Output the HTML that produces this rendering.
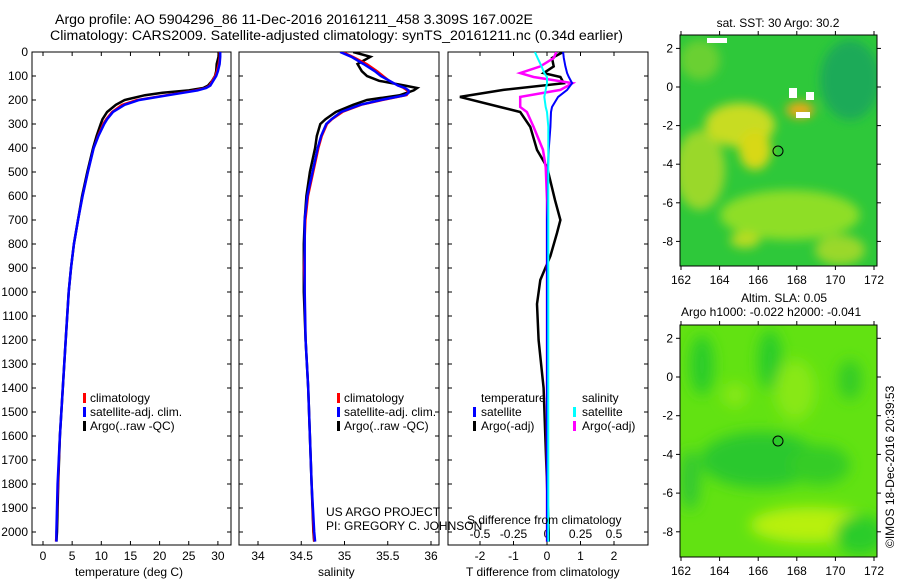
<!DOCTYPE html>
<html><head><meta charset="utf-8">
<style>
html,body{margin:0;padding:0;background:#fff;}
svg{display:block;font-family:"Liberation Sans",sans-serif;font-size:12px;}
</style></head>
<body>
<svg id="fig" width="900" height="580" viewBox="0 0 900 580">
<defs>
<filter id="bl1" x="-50%" y="-50%" width="200%" height="200%"><feGaussianBlur stdDeviation="5"/></filter>
<filter id="bl2" x="-50%" y="-50%" width="200%" height="200%"><feGaussianBlur stdDeviation="7"/></filter>
<clipPath id="c1"><rect x="32" y="52" width="199" height="493"/></clipPath>
<clipPath id="c2"><rect x="239" y="52" width="200" height="493"/></clipPath>
<clipPath id="c3"><rect x="448" y="52" width="200" height="493"/></clipPath>
<clipPath id="m1"><rect x="680" y="35" width="197" height="231"/></clipPath>
<clipPath id="m2"><rect x="680" y="325" width="197" height="232"/></clipPath>
</defs>
<text x="55" y="24" font-size="13.5" textLength="478" lengthAdjust="spacingAndGlyphs">Argo profile: AO 5904296_86 11-Dec-2016 20161211_458 3.309S 167.002E</text>
<text x="50" y="40" font-size="13.5" textLength="573" lengthAdjust="spacingAndGlyphs">Climatology: CARS2009. Satellite-adjusted climatology: synTS_20161211.nc (0.34d earlier)</text>

<g id="maps">
<g clip-path="url(#m1)">
<rect x="680" y="35" width="197" height="231" fill="#2ec83a"/>
<g filter="url(#bl1)">
<ellipse cx="700" cy="170" rx="25" ry="40" fill="#9ad82a"/>
<ellipse cx="740" cy="125" rx="35" ry="22" fill="#c8dc20"/>
<ellipse cx="755" cy="150" rx="16" ry="20" fill="#d8d818"/>
<ellipse cx="800" cy="110" rx="14" ry="8" fill="#f0a818"/>
<ellipse cx="790" cy="215" rx="70" ry="25" fill="#8ede26"/>
<ellipse cx="850" cy="80" rx="30" ry="40" fill="#1aaa58"/>
<ellipse cx="840" cy="250" rx="25" ry="15" fill="#9ad82a"/>
<ellipse cx="700" cy="60" rx="20" ry="20" fill="#6ad030"/>
<ellipse cx="745" cy="240" rx="15" ry="8" fill="#b8dc22"/>
</g>
<rect x="789" y="88" width="8" height="10" fill="#fff"/>
<rect x="806" y="92" width="8" height="8" fill="#fff"/>
<rect x="796" y="112" width="14" height="6" fill="#fff"/>
<rect x="707" y="38" width="20" height="5" fill="#fff"/>
<circle cx="778" cy="151" r="5" fill="none" stroke="#000"/>
</g>
<rect x="680" y="35" width="197" height="231" fill="none" stroke="#000"/>
<text x="778" y="27" text-anchor="middle">sat. SST: 30 Argo: 30.2</text>

<g clip-path="url(#m2)">
<rect x="680" y="325" width="197" height="232" fill="#62e212"/>
<g filter="url(#bl2)">
<ellipse cx="702" cy="365" rx="12" ry="30" fill="#2ccc2a"/>
<ellipse cx="770" cy="360" rx="12" ry="30" fill="#2ccc2a"/>
<ellipse cx="850" cy="380" rx="12" ry="20" fill="#34cc28"/>
<ellipse cx="760" cy="460" rx="60" ry="28" fill="#2cc82e"/>
<ellipse cx="820" cy="465" rx="30" ry="20" fill="#34cc28"/>
<ellipse cx="795" cy="390" rx="20" ry="30" fill="#88e818"/>
<ellipse cx="810" cy="525" rx="60" ry="18" fill="#b8f010"/>
<ellipse cx="735" cy="395" rx="12" ry="12" fill="#88e818"/>
<ellipse cx="690" cy="480" rx="10" ry="30" fill="#30c830"/>
<ellipse cx="860" cy="535" rx="25" ry="20" fill="#2ccc2a"/>
</g>
<circle cx="778" cy="441" r="5" fill="#2cc82a" stroke="#000"/>
</g>
<rect x="680" y="325" width="197" height="232" fill="none" stroke="#000"/>
<text x="741" y="302">Altim. SLA: 0.05</text>
<text x="681" y="316">Argo h1000: -0.022 h2000: -0.041</text>
<text transform="translate(894,548) rotate(-90)">©IMOS 18-Dec-2016 20:39:53</text>
<g id="mapticks"></g>
</g>

<g id="panels"></g>

<text x="75" y="576">temperature (deg C)</text>
<text x="318" y="576">salinity</text>
<text x="466" y="576">T difference from climatology</text>
<text x="467" y="524">S difference from climatology</text>
<text x="326" y="516">US ARGO PROJECT</text>
<text x="326" y="530">PI: GREGORY C. JOHNSON</text>

<g>
<rect x="83" y="393" width="3" height="10" fill="#f00"/><text x="90" y="402">climatology</text>
<rect x="83" y="407" width="3" height="10" fill="#00f"/><text x="90" y="416">satellite-adj. clim.</text>
<rect x="83" y="421" width="3" height="10" fill="#000"/><text x="90" y="430">Argo(..raw -QC)</text>
</g>
<g>
<rect x="337" y="393" width="3" height="10" fill="#f00"/><text x="344" y="402">climatology</text>
<rect x="337" y="407" width="3" height="10" fill="#00f"/><text x="344" y="416">satellite-adj. clim.</text>
<rect x="337" y="421" width="3" height="10" fill="#000"/><text x="344" y="430">Argo(..raw -QC)</text>
</g>
<g>
<text x="481" y="402">temperature</text><text x="582" y="402">salinity</text>
<rect x="473" y="407" width="3" height="10" fill="#00f"/><text x="481" y="416">satellite</text>
<rect x="573" y="407" width="3" height="10" fill="#0ff"/><text x="582" y="416">satellite</text>
<rect x="473" y="421" width="3" height="10" fill="#000"/><text x="481" y="430">Argo(-adj)</text>
<rect x="573" y="421" width="3" height="10" fill="#f0f"/><text x="582" y="430">Argo(-adj)</text>
</g>
</svg>
<script>
const depths = [0,20,50,80,100,120,140,150,160,170,180,200,220,250,280,300,350,400,500,600,700,800,900,1000,1200,1400,1600,1800,2000,2040];
const tempArgo = [30.2,30.1,29.8,29.7,29.5,29.0,28.3,27.5,25.0,20.5,17.5,14.0,12.5,11.0,10.2,9.9,9.2,8.6,7.6,6.7,6.0,5.3,4.8,4.4,3.9,3.4,2.9,2.6,2.4,2.3];
const tempClim = [30.3,30.3,30.1,29.8,29.5,29.0,28.5,27.8,26.0,23.5,21.0,16.0,13.5,11.8,10.8,10.3,9.4,8.7,7.7,6.8,6.0,5.3,4.8,4.4,3.9,3.4,2.9,2.6,2.3,2.2];
const tempSat = [30.4,30.4,30.3,30.0,29.7,29.2,28.7,28.0,26.5,24.0,21.5,16.5,14.0,12.0,11.0,10.5,9.5,8.7,7.7,6.8,6.0,5.3,4.8,4.4,3.9,3.4,2.9,2.5,2.3,2.3];
const salArgo = [35.1,35.3,35.15,35.2,35.26,35.4,35.7,35.84,35.8,35.72,35.64,35.26,35.1,34.9,34.78,34.72,34.68,34.66,34.6,34.56,34.54,34.53,34.53,34.53,34.55,34.58,34.6,34.62,34.64,34.65];
const salClim = [34.98,35.1,35.26,35.38,35.45,35.52,35.62,35.68,35.72,35.74,35.72,35.45,35.2,34.98,34.86,34.8,34.74,34.7,34.64,34.58,34.55,34.54,34.53,34.54,34.55,34.58,34.6,34.62,34.64,34.65];
const salSat = [34.95,35.08,35.22,35.35,35.42,35.52,35.62,35.7,35.74,35.74,35.7,35.42,35.18,34.96,34.85,34.79,34.73,34.69,34.63,34.57,34.54,34.54,34.54,34.54,34.55,34.58,34.6,34.62,34.65,34.66];
const diffDepths = [0,25,60,88,104,130,158,187,229,250,312,408,479,617,700,754,850,950,1050,1200,1400,1600,1800,2000,2040];
const tDiffArgo = [0.48,0.15,0.2,-0.1,0.4,0.5,-1.3,-2.6,-1.4,-0.8,-0.5,-0.3,0,0.24,0.4,0.3,0.1,-0.2,-0.3,-0.25,-0.1,-0.05,0,0.05,0.05];
const tDiffSat = [0.48,0.5,0.55,0.6,0.65,0.75,0.6,0.33,0.15,0.12,0.1,0.05,0.03,0.02,0,0,0,0,0,0,0,0,0,0,0];
const sDiffArgo = [0.07,0.05,-0.05,-0.2,-0.1,0.19,0.1,-0.2,-0.2,-0.15,-0.1,-0.03,-0.01,0,0,0,0,0,0,0,0,0,0,0,0];
const sDiffSat = [-0.09,-0.07,-0.04,-0.02,0,0,-0.01,-0.02,-0.01,0,0.01,0.01,0.01,0.01,0.01,0.01,0.01,0.01,0.01,0.01,0.01,0.01,0.01,0.01,0.01];
const depthTicks = [0,100,200,300,400,500,600,700,800,900,1000,1100,1200,1300,1400,1500,1600,1700,1800,1900,2000];
const tempTicks = [0,5,10,15,20,25,30];
const salTicks = [34,34.5,35,35.5,36];
const tDiffTicks = [-2,-1,0,1,2];
const sDiffTicks = [-0.5,-0.25,0,0.25,0.5];
const sDiffTickLabels = ["-0.5","-0.25","0","0.25","0.5"];
const lonTicks = [162,164,166,168,170,172];
const latTicks = [2,0,-2,-4,-6,-8];

const NS='http://www.w3.org/2000/svg';
const yD = d => 52 + d*0.24;
const xT = t => 43 + t*5.83;
const xS = s => 258 + (s-34)*86.5;
const xTd = v => 547 + v*33.5;
const xSd = v => 547 + v*134;
const lonX = l => 681 + (l-162)*19.3;
const lat1 = l => 87 - l*19.3;
const lat2 = l => 377 - l*19.35;
const panels = document.getElementById('panels');
function el(tag, attrs, parent){const e=document.createElementNS(NS,tag);for(const k in attrs)e.setAttribute(k,attrs[k]);(parent||panels).appendChild(e);return e;}
function line(xs, ys, xf, yf, color, w, clip, name){
  let d='';for(let i=0;i<xs.length;i++){d+=(i?'L':'M')+xf(xs[i]).toFixed(1)+' '+yf(ys[i]).toFixed(1);}
  const p=el('path',{d:d,fill:'none',stroke:color,'stroke-width':w,'clip-path':'url(#'+clip+')'});
  
  
}
function frame(x,w,name){
  const r=el('rect',{x:x,y:52,width:w,height:493,fill:'none',stroke:'#000'});
  
  
  depthTicks.forEach(d=>{el('line',{x1:x,x2:x+4,y1:yD(d),y2:yD(d),stroke:'#000'});el('line',{x1:x+w-4,x2:x+w,y1:yD(d),y2:yD(d),stroke:'#000'});});
}
frame(32,199,'temperature-panel-frame');
frame(239,200,'salinity-panel-frame');
frame(448,200,'difference-panel-frame');
depthTicks.forEach(d=>{const t=el('text',{x:28,y:yD(d)+4,'text-anchor':'end'});t.textContent=d;
  
  });
function xticks(ticks, xf, labels, yl, top){
  ticks.forEach((v,i)=>{el('line',{x1:xf(v),x2:xf(v),y1:545,y2:541,stroke:'#000'});
    if(top) el('line',{x1:xf(v),x2:xf(v),y1:52,y2:56,stroke:'#000'});
    const t=el('text',{x:xf(v),y:yl,'text-anchor':'middle'});t.textContent=labels?labels[i]:v;
    
    });
}
xticks(tempTicks,xT,null,560,true);
xticks(salTicks,xS,null,560,false);
xticks(tDiffTicks,xTd,null,560,true);
sDiffTicks.forEach((v,i)=>{const t=el('text',{x:xSd(v),y:538,'text-anchor':'middle'});t.textContent=sDiffTickLabels[i];
  
  });
line(tempArgo,depths,xT,yD,'#000',2.5,'c1','temp-argo-line');
line(tempClim,depths,xT,yD,'#f00',2,'c1','temp-clim-line');
line(tempSat,depths,xT,yD,'#00f',2.5,'c1','temp-sat-line');
line(salArgo,depths,xS,yD,'#000',2.5,'c2','sal-argo-line');
line(salClim,depths,xS,yD,'#f00',2,'c2','sal-clim-line');
line(salSat,depths,xS,yD,'#00f',2.5,'c2','sal-sat-line');
line(tDiffArgo,diffDepths,xTd,yD,'#000',2.5,'c3','tdiff-argo-line');
line(sDiffArgo,diffDepths,xSd,yD,'#f0f',2.5,'c3','sdiff-argo-line');
line(tDiffSat,diffDepths,xTd,yD,'#00f',2,'c3','tdiff-sat-line');
line(sDiffSat,diffDepths,xSd,yD,'#0ff',2,'c3','sdiff-sat-line');
const mt=document.getElementById('mapticks');
[[35,266,lat1],[325,557,lat2]].forEach(([top,bot,lf])=>{
  lonTicks.forEach(l=>{el('line',{x1:lonX(l),x2:lonX(l),y1:bot,y2:bot+4,stroke:'#000'},mt);el('line',{x1:lonX(l),x2:lonX(l),y1:top,y2:top-4,stroke:'#000'},mt);
    const t=el('text',{x:lonX(l),y:bot+18,'text-anchor':'middle'},mt);t.textContent=l;
    
    });
  latTicks.forEach(l=>{el('line',{x1:676,x2:680,y1:lf(l),y2:lf(l),stroke:'#000'},mt);el('line',{x1:877,x2:881,y1:lf(l),y2:lf(l),stroke:'#000'},mt);
    const t=el('text',{x:673,y:lf(l)+4,'text-anchor':'end'},mt);t.textContent=l;
    
    });
});
</script>
</body></html>
